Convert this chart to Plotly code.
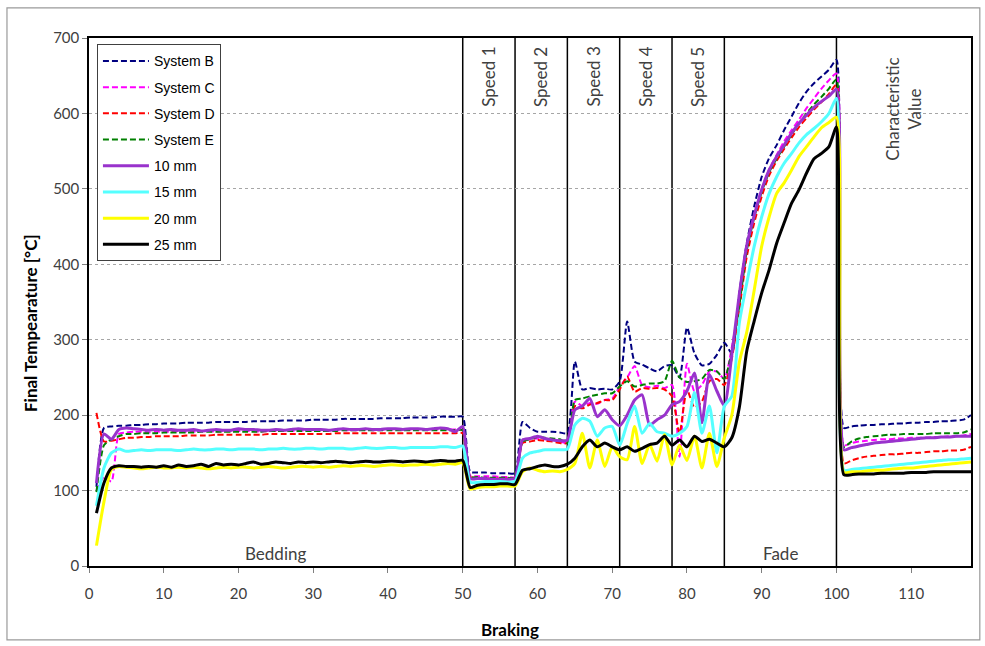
import plotly.graph_objects as go

# ---------------- data ----------------
braking = list(range(1, 119))

series_names = ["System B", "System C", "System D", "System E",
                "10 mm", "15 mm", "20 mm", "25 mm"]

system_b = (
    [105, 183, 185, 186, 186, 187, 187, 188, 188, 189,
     189, 189, 190, 190, 190, 190, 191, 191, 191, 191,
     191, 192, 192, 192, 192, 193, 193, 193, 193, 194,
     194, 194, 194, 195, 195, 195, 195, 195, 196, 196,
     196, 196, 197, 197, 197, 197, 198, 198, 198, 198]
    + [125, 124, 124, 123, 123, 123, 123]
    + [191, 183, 178, 178, 178, 177, 176]
    + [271, 234, 236, 234, 235, 234, 245]
    + [324, 271, 267, 262, 258, 265, 266]
    + [250, 316, 282, 266, 268, 280, 296]
    + [282, 362, 428, 477, 516, 541, 558, 578, 596, 614, 629, 640, 649, 658, 671]
    + [183, 185, 186, 187, 187, 188, 188, 189, 189, 190, 190, 191, 191, 192, 192, 193, 194, 200]
)

system_c = (
    [100, 118, 112, 175, 177, 178, 178, 177, 178, 178,
     178, 179, 178, 178, 179, 179, 178, 179, 179, 179,
     179, 179, 178, 179, 179, 180, 179, 179, 180, 180,
     180, 179, 180, 180, 180, 180, 181, 180, 180, 181,
     181, 180, 181, 181, 181, 181, 181, 181, 181, 180]
    + [120, 119, 119, 119, 118, 118, 118]
    + [167, 168, 169, 168, 167, 165, 163]
    + [218, 212, 216, 215, 220, 222, 238]
    + [250, 265, 240, 237, 239, 236, 240]
    + [145, 268, 232, 240, 258, 258, 248]
    + [290, 348, 420, 466, 500, 526, 545, 563, 578, 592, 607, 620, 633, 644, 653]
    + [160, 163, 165, 166, 167, 168, 168, 169, 169, 170, 170, 170, 171, 171, 172, 172, 173, 175]
)

system_d = (
    [203, 165, 166, 168, 170, 170, 171, 171, 172, 172,
     172, 172, 173, 173, 173, 173, 174, 174, 174, 174,
     174, 174, 174, 175, 175, 175, 175, 175, 175, 175,
     175, 175, 176, 176, 176, 176, 176, 176, 176, 176,
     176, 176, 176, 176, 176, 176, 176, 176, 176, 176]
    + [118, 117, 116, 116, 116, 116, 116]
    + [163, 165, 167, 166, 165, 163, 163]
    + [212, 209, 214, 216, 220, 220, 234]
    + [251, 231, 236, 235, 236, 234, 225]
    + [176, 234, 210, 218, 245, 248, 240]
    + [275, 340, 410, 455, 490, 518, 537, 553, 568, 582, 594, 605, 615, 626, 638]
    + [136, 140, 143, 145, 146, 147, 148, 148, 149, 150, 150, 151, 152, 152, 153, 153, 154, 158]
)

system_e = (
    [98, 160, 168, 172, 175, 175, 176, 176, 176, 177,
     177, 177, 177, 177, 178, 178, 178, 178, 178, 178,
     178, 178, 178, 179, 179, 179, 179, 179, 179, 179,
     179, 179, 179, 180, 180, 180, 180, 180, 180, 180,
     180, 180, 180, 180, 180, 180, 180, 180, 180, 180]
    + [118, 118, 117, 117, 117, 117, 117]
    + [165, 168, 171, 170, 169, 168, 163]
    + [220, 222, 225, 227, 229, 229, 238]
    + [245, 238, 240, 242, 242, 245, 272]
    + [250, 244, 245, 248, 260, 258, 248]
    + [285, 345, 418, 462, 496, 522, 540, 556, 572, 587, 600, 612, 622, 633, 645]
    + [158, 165, 169, 171, 172, 173, 174, 174, 175, 175, 175, 175, 176, 176, 176, 176, 177, 181]
)

mm10 = (
    [110, 175, 168, 181, 183, 182, 181, 180, 181, 180,
     181, 180, 180, 181, 179, 180, 181, 180, 180, 182,
     181, 181, 180, 180, 181, 180, 181, 182, 181, 181,
     181, 180, 181, 182, 181, 181, 182, 181, 181, 182,
     182, 181, 182, 182, 181, 182, 183, 182, 178, 185]
    + [116, 116, 116, 115, 115, 115, 116]
    + [167, 169, 172, 169, 167, 166, 167]
    + [207, 212, 222, 198, 207, 194, 186]
    + [200, 220, 227, 187, 194, 200, 214]
    + [218, 232, 256, 190, 254, 232, 212]
    + [280, 360, 425, 465, 499, 525, 543, 558, 574, 587, 598, 608, 616, 623, 632]
    + [154, 157, 159, 161, 163, 164, 165, 166, 167, 168, 169, 170, 170, 171, 171, 172, 172, 172]
)

mm15 = (
    [80, 130, 150, 155, 152, 153, 154, 153, 154, 154,
     154, 153, 154, 155, 154, 154, 155, 155, 154, 155,
     155, 155, 154, 155, 155, 156, 155, 155, 156, 156,
     155, 156, 156, 156, 155, 156, 157, 156, 156, 157,
     157, 156, 157, 157, 157, 157, 158, 158, 157, 159]
    + [111, 111, 112, 112, 112, 111, 112]
    + [143, 150, 152, 154, 154, 154, 155]
    + [187, 196, 192, 172, 183, 185, 160]
    + [189, 212, 176, 189, 178, 176, 172]
    + [176, 185, 230, 176, 212, 150, 212]
    + [225, 322, 375, 424, 463, 494, 516, 534, 547, 561, 572, 580, 589, 600, 620]
    + [127, 128, 129, 130, 131, 132, 133, 134, 135, 136, 137, 138, 139, 140, 141, 141, 142, 143]
)

mm20 = (
    [27, 85, 128, 132, 131, 130, 129, 130, 131, 130,
     130, 131, 130, 131, 130, 129, 130, 131, 130, 131,
     131, 130, 131, 132, 131, 130, 131, 132, 132, 131,
     132, 131, 132, 133, 132, 133, 133, 132, 133, 134,
     134, 133, 134, 134, 135, 134, 135, 136, 135, 137]
    + [102, 104, 105, 105, 106, 106, 106]
    + [125, 130, 127, 125, 126, 125, 128]
    + [136, 176, 130, 167, 132, 158, 145]
    + [141, 185, 136, 161, 139, 174, 134]
    + [160, 140, 172, 130, 176, 132, 170]
    + [200, 270, 310, 366, 424, 463, 494, 508, 525, 543, 556, 569, 581, 588, 595]
    + [124, 125, 125, 126, 127, 127, 128, 129, 130, 130, 131, 132, 133, 134, 135, 136, 137, 138]
)

mm25 = (
    [70, 110, 130, 133, 132, 132, 131, 132, 131, 133,
     131, 134, 132, 133, 135, 132, 136, 134, 135, 134,
     136, 138, 135, 136, 138, 137, 136, 138, 137, 138,
     137, 138, 139, 138, 137, 138, 139, 138, 138, 139,
     139, 138, 139, 139, 138, 139, 140, 139, 139, 140]
    + [104, 107, 108, 108, 109, 109, 108]
    + [127, 129, 132, 134, 132, 132, 135]
    + [143, 158, 167, 158, 163, 158, 154]
    + [158, 152, 156, 161, 163, 172, 160]
    + [167, 158, 172, 165, 168, 163, 158]
    + [170, 210, 285, 325, 362, 393, 428, 455, 481, 499, 521, 540, 547, 556, 582]
    + [121, 121, 122, 122, 122, 123, 123, 123, 123, 124, 124, 124, 125, 125, 125, 125, 125, 125]
)

series_values = [system_b, system_c, system_d, system_e, mm10, mm15, mm20, mm25]

section_bounds = [50, 57, 64, 71, 78, 85, 100]
speed_labels = ["Speed 1", "Speed 2", "Speed 3", "Speed 4", "Speed 5"]
x_ticks = [0, 10, 20, 30, 40, 50, 60, 70, 80, 90, 100, 110]
y_ticks = [0, 100, 200, 300, 400, 500, 600, 700]
x_title = "Braking"
y_title = "Final Tempearature [°C]"

# ---------------- styles ----------------
colors = ["#000080", "#FF00FF", "#FF0000", "#008000",
          "#9933CC", "#55FFFF", "#FFFF00", "#000000"]
dashes = ["6px,3px"] * 4 + ["solid"] * 4
widths = [2, 2, 2, 2, 3, 3, 3, 3]

fig = go.Figure()
for name, vals, col, dsh, w in zip(series_names, series_values, colors, dashes, widths):
    fig.add_trace(go.Scatter(
        x=braking, y=vals, name=name, mode="lines", legendgroup=name,
        line=dict(color=col, dash=dsh, width=w, shape="spline", smoothing=0.6),
    ))

label_font = dict(family="Lato", size=17, color="#404040")
tick_font = dict(family="Lato", size=15, color="#404040")
title_font = dict(family="Lato", size=17, color="#000000")

shapes = []
for b in section_bounds:
    shapes.append(dict(type="line", xref="x", yref="paper", x0=b, x1=b, y0=0, y1=1,
                       line=dict(color="#000000", width=1.5), layer="below"))
# outer chart-area border
shapes.append(dict(type="rect", xref="paper", yref="paper",
                   x0=-0.093, x1=1.010, y0=-0.140, y1=1.057,
                   line=dict(color="#9a9a9a", width=1.2)))

annotations = [
    dict(x=(0 + section_bounds[0]) / 2, y=0.0, xref="x", yref="paper", text="Bedding",
         showarrow=False, yanchor="bottom", font=label_font),
    dict(x=(section_bounds[5] + section_bounds[6]) / 2, y=0.0, xref="x", yref="paper",
         text="Fade", showarrow=False, yanchor="bottom", font=label_font),
    dict(x=(section_bounds[6] + 118) / 2, y=0.967, xref="x", yref="paper",
         text="Characteristic<br>Value", showarrow=False, yanchor="top",
         textangle=-90, font=label_font),
    dict(x=0.477, y=-0.121, xref="paper", yref="paper", text="<b>" + x_title + "</b>",
         showarrow=False, xanchor="center", yanchor="middle", font=title_font),
    dict(x=-0.067, y=0.46, xref="paper", yref="paper", text="<b>" + y_title + "</b>",
         showarrow=False, xanchor="center", yanchor="middle", textangle=-90,
         font=title_font),
]
for i, lab in enumerate(speed_labels):
    annotations.append(dict(x=(section_bounds[i] + section_bounds[i + 1]) / 2, y=0.987,
                            xref="x", yref="paper", text=lab, showarrow=False,
                            yanchor="top", textangle=-90, font=label_font))

fig.update_layout(
    width=985, height=646,
    margin=dict(l=89, r=14, t=38, b=80),
    paper_bgcolor="white", plot_bgcolor="white",
    showlegend=True,
    legend=dict(x=0.009, y=0.988, xanchor="left", yanchor="top",
                bgcolor="white", bordercolor="#404040", borderwidth=1,
                font=dict(family="Liberation Sans", size=14, color="#000000"),
                itemwidth=46, tracegroupgap=5),
    shapes=shapes, annotations=annotations,
    xaxis=dict(range=[0, 118], tickvals=x_ticks, showgrid=False, zeroline=False,
               showline=True, linecolor="#000000", linewidth=1.5, mirror=True,
               ticks="outside", ticklen=5, tickcolor="#808080",
               tickfont=tick_font, ticklabelstandoff=8),
    yaxis=dict(range=[0, 700], tickvals=y_ticks, showgrid=True, gridcolor="#a6a6a6",
               griddash="dot", gridwidth=1, zeroline=False,
               showline=True, linecolor="#000000", linewidth=1.5, mirror=True,
               ticks="outside", ticklen=5, tickcolor="#808080",
               tickfont=tick_font),
)

fig.write_html("out.html")
